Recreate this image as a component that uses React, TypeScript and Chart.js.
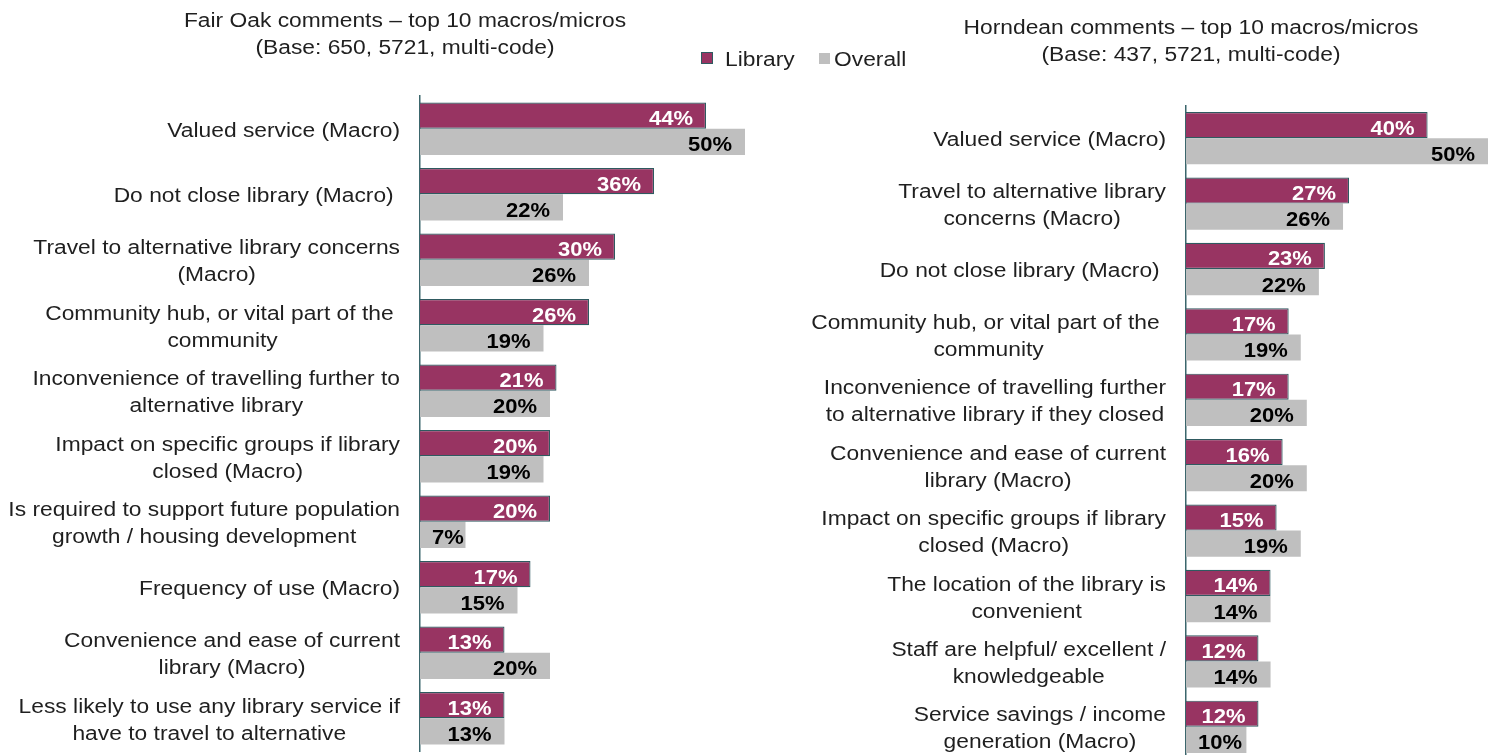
import React, { useEffect, useRef } from "react";
import { Chart, registerables } from "chart.js";

Chart.register(...registerables);

const FONT = '"Liberation Sans", Arial, Helvetica, sans-serif';
const SX = 1.14;
const TEXT = "#1f1f1f";
const LIB_COLOR = "#983462";
const LIB_BORDER = "#2f5a60";
const OVR_COLOR = "#bfbfbf";
const AXIS_COLOR = "#3b666c";

const seriesNames = ["Library", "Overall"];
const xMin = 0;
const xMax = 50;

const fairOakTitle = ["Fair Oak comments \u2013 top 10 macros/micros", "(Base: 650, 5721, multi-code)"];
const fairOakCategories = [
  ["Valued service (Macro)"],
  ["Do not close library (Macro) "],
  ["Travel to alternative library concerns", "(Macro)"],
  ["Community hub, or vital part of the ", "community"],
  ["Inconvenience of travelling further to", "alternative library"],
  ["Impact on specific groups if library", "closed (Macro)"],
  ["Is required to support future population", "growth / housing development"],
  ["Frequency of use (Macro)"],
  ["Convenience and ease of current", "library (Macro)"],
  ["Less likely to use any library service if", "have to travel to alternative"],
];
const fairOakLibrary = [44, 36, 30, 26, 21, 20, 20, 17, 13, 13];
const fairOakOverall = [50, 22, 26, 19, 20, 19, 7, 15, 20, 13];

const horndeanTitle = ["Horndean comments \u2013 top 10 macros/micros", "(Base: 437, 5721, multi-code)"];
const horndeanCategories = [
  ["Valued service (Macro)"],
  ["Travel to alternative library", "concerns (Macro)"],
  ["Do not close library (Macro) "],
  ["Community hub, or vital part of the ", "community"],
  ["Inconvenience of travelling further", "to alternative library if they closed"],
  ["Convenience and ease of current", "library (Macro)"],
  ["Impact on specific groups if library", "closed (Macro)"],
  ["The location of the library is", "convenient"],
  ["Staff are helpful/ excellent /", "knowledgeable"],
  ["Service savings / income", "generation (Macro)"],
];
const horndeanLibrary = [40, 27, 23, 17, 17, 16, 15, 14, 12, 12];
const horndeanOverall = [50, 26, 22, 19, 20, 20, 19, 14, 14, 10];

const textPlugin = {
  id: "customText",
  afterDraw(chart: any) {
    const ctx = chart.ctx as CanvasRenderingContext2D;
    const yScale = chart.scales.y;
    const left = chart.chartArea.left;
    ctx.save();
    ctx.font = `20px ${FONT}`;
    ctx.fillStyle = TEXT;
    ctx.textBaseline = "middle";
    ctx.textAlign = "center";
    (chart.data.labels as any[]).forEach((lab, i) => {
      const lines: string[] = Array.isArray(lab) ? lab : [lab];
      const w = Math.max(...lines.map((l) => ctx.measureText(l).width)) * SX;
      const cx = left - 20 - w / 2;
      const cy = yScale.getPixelForTick(i) + 2.5;
      const lh = 27;
      lines.forEach((ln, k) => {
        const ly = cy + (k - (lines.length - 1) / 2) * lh;
        ctx.save();
        ctx.translate(cx, ly);
        ctx.scale(SX, 1);
        ctx.fillText(ln.trimEnd(), -(ctx.measureText(ln).width - ctx.measureText(ln.trimEnd()).width) / 2, 0);
        ctx.restore();
      });
    });
    ctx.font = `bold 20px ${FONT}`;
    ctx.textAlign = "left";
    const DX = 1.1;
    chart.data.datasets.forEach((ds: any, di: number) => {
      const meta = chart.getDatasetMeta(di);
      ctx.fillStyle = di === 0 ? "#ffffff" : "#000000";
      meta.data.forEach((el: any, j: number) => {
        const txt = `${ds.data[j]}%`;
        const w = ctx.measureText(txt).width * DX;
        const lx = Math.max(el.x - 13 - w, el.base + 12);
        ctx.save();
        ctx.translate(lx, el.y + 4);
        ctx.scale(DX, 1);
        ctx.fillText(txt, 0, 0);
        ctx.restore();
      });
    });
    ctx.restore();
  },
};

function makeChart(
  canvas: HTMLCanvasElement,
  labels: string[][],
  lib: number[],
  ovr: number[],
  axisWidth: number,
  padding: { top: number; bottom: number; right: number }
) {
  return new Chart(canvas, {
    type: "bar",
    data: {
      labels,
      datasets: [
        {
          label: seriesNames[0],
          data: lib,
          backgroundColor: LIB_COLOR,
          borderColor: LIB_BORDER,
          borderWidth: 1.2,
          categoryPercentage: 0.8,
          barPercentage: 1,
        },
        {
          label: seriesNames[1],
          data: ovr,
          backgroundColor: OVR_COLOR,
          borderWidth: 0,
          categoryPercentage: 0.8,
          barPercentage: 1,
        },
      ],
    },
    options: {
      indexAxis: "y",
      animation: false,
      responsive: false,
      events: [],
      layout: { padding: { left: 0, top: padding.top, bottom: padding.bottom, right: padding.right } },
      plugins: {
        legend: { display: false },
        title: { display: false },
        tooltip: { enabled: false },
      },
      scales: {
        x: { display: false, min: xMin, max: xMax },
        y: {
          z: 1,
          ticks: { display: false },
          grid: { display: false },
          border: { display: true, color: AXIS_COLOR, width: 1.5 },
          afterFit: (scale: any) => {
            scale.width = axisWidth;
          },
        },
      },
    },
    plugins: [textPlugin],
  } as any);
}

function Title({ lines, cx, top }: { lines: string[]; cx: number; top: number }) {
  return (
    <div
      style={{
        position: "absolute",
        left: cx - 300,
        top,
        width: 600,
        textAlign: "center",
        fontSize: 20,
        lineHeight: "27px",
        color: TEXT,
        transform: `scaleX(${SX})`,
        transformOrigin: "center",
        whiteSpace: "pre",
      }}
    >
      {lines.map((l, i) => (
        <div key={i}>{l}</div>
      ))}
    </div>
  );
}

export default function App() {
  const leftRef = useRef<HTMLCanvasElement>(null);
  const rightRef = useRef<HTMLCanvasElement>(null);

  useEffect(() => {
    const c1 = makeChart(leftRef.current!, fairOakCategories, fairOakLibrary, fairOakOverall, 420, {
      top: 96,
      bottom: 4,
      right: 15,
    });
    const c2 = makeChart(rightRef.current!, horndeanCategories, horndeanLibrary, horndeanOverall, 426, {
      top: 105.5,
      bottom: 10.5,
      right: 6,
    });
    return () => {
      c1.destroy();
      c2.destroy();
    };
  }, []);

  const legendText = {
    position: "absolute" as const,
    top: 45.5,
    fontSize: 20,
    lineHeight: "27px",
    color: TEXT,
    transform: `scaleX(${SX})`,
    transformOrigin: "left center",
    whiteSpace: "pre" as const,
  };

  return (
    <div
      style={{
        position: "fixed",
        left: 0,
        top: 0,
        width: 1494,
        height: 755,
        overflow: "hidden",
        background: "#ffffff",
        fontFamily: FONT,
      }}
    >
      <canvas ref={leftRef} width={760} height={755} style={{ position: "absolute", left: 0, top: 0 }} />
      <canvas ref={rightRef} width={734} height={770} style={{ position: "absolute", left: 760, top: 0 }} />
      <Title lines={fairOakTitle} cx={405} top={6.5} />
      <Title lines={horndeanTitle} cx={1191} top={13.5} />
      <div style={{ position: "absolute", left: 701, top: 52, width: 12, height: 12, background: LIB_COLOR, border: `1px solid ${LIB_BORDER}`, boxSizing: "border-box" }} />
      <div style={{ ...legendText, left: 725 }}>{seriesNames[0]}</div>
      <div style={{ position: "absolute", left: 819, top: 53, width: 11, height: 11, background: OVR_COLOR }} />
      <div style={{ ...legendText, left: 834 }}>{seriesNames[1]}</div>
    </div>
  );
}
